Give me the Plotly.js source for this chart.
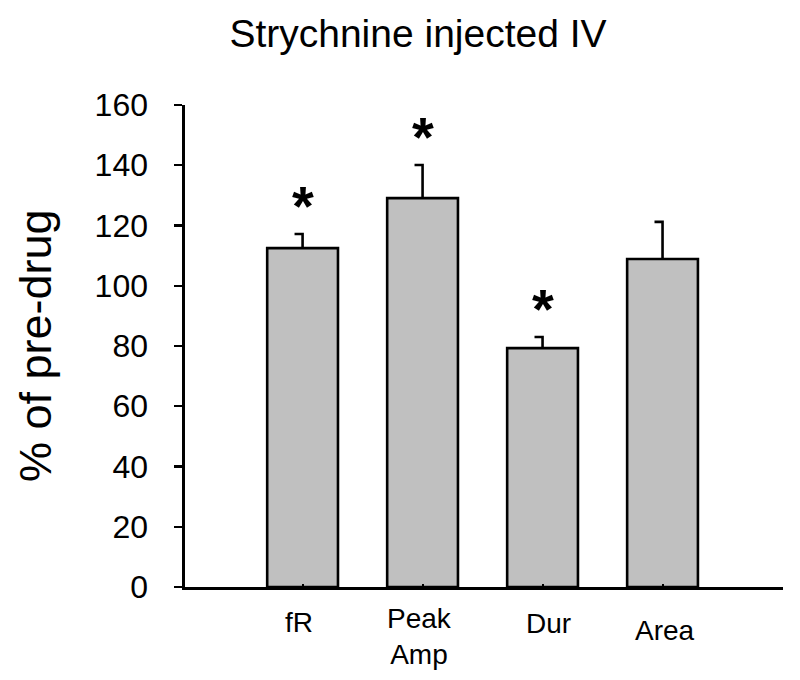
<!DOCTYPE html>
<html>
<head>
<meta charset="utf-8">
<script src="https://cdn.plot.ly/plotly-3.0.1.min.js"></script>
<style>html,body{margin:0;padding:0;background:#fff;}#chart{width:800px;height:680px;}</style>
</head>
<body>
<div id="chart"></div>
<script>
// ---- data ----
const categories = ["fR", "Peak<br>Amp", "Dur", "Area"];
const values = [112.5, 129.1, 79.3, 108.9];
const errors = [4.7, 11.0, 3.7, 12.3];
const significant = [true, true, true, false];
const titleText = "Strychnine injected IV";
const yTitleText = "% of pre-drug";
const yTickVals = [0, 20, 40, 60, 80, 100, 120, 140, 160];

// ---- layout helpers (positions / styles) ----
const FONT = "Liberation Sans, Arial, sans-serif";
const xIdx = categories.map((_, i) => i);
const capW = 0.067;
const labelXShift = [-4, -3, 6, 2];
const labelYShift = [-35, -49, -36, -43];

const barTrace = {
  type: "bar",
  x: xIdx,
  y: values,
  width: 0.59,
  marker: { color: "#c0c0c0", line: { color: "#000", width: 2.6 } },
  hoverinfo: "skip"
};

const ex = [], ey = [];
xIdx.forEach((i) => {
  ex.push(i, i, i - capW, null);
  ey.push(values[i], values[i] + errors[i], values[i] + errors[i], null);
});
const errTrace = {
  type: "scatter", mode: "lines", x: ex, y: ey,
  line: { color: "#000", width: 2.6 }, hoverinfo: "skip", cliponaxis: false
};

const annotations = [];
xIdx.forEach((i) => {
  annotations.push({
    xref: "x", yref: "paper", x: i, y: 0,
    xanchor: "center", yanchor: "middle",
    xshift: labelXShift[i], yshift: labelYShift[i],
    text: categories[i], showarrow: false,
    font: { family: FONT, size: 28, color: "#000" }
  });
  if (significant[i]) {
    annotations.push({
      xref: "x", yref: "y", x: i, y: values[i] + errors[i],
      xanchor: "center", yanchor: "middle", yshift: 28,
      text: "<b>*</b>", showarrow: false,
      font: { family: FONT, size: 56, color: "#000" }
    });
  }
});
annotations.push({
  xref: "paper", yref: "paper", x: 0, y: 0.5,
  xanchor: "center", yanchor: "middle", xshift: -150,
  textangle: -90, text: yTitleText, showarrow: false,
  font: { family: FONT, size: 45, color: "#000" }
});

const layout = {
  width: 800, height: 680,
  margin: { l: 185, r: 17, t: 105, b: 93 },
  paper_bgcolor: "#fff", plot_bgcolor: "#fff",
  showlegend: false,
  title: {
    text: titleText, x: 0.5225, xanchor: "center",
    y: 1 - 33 / 680, yanchor: "middle", yref: "container",
    font: { family: FONT, size: 39, color: "#000" }
  },
  xaxis: {
    range: [-0.98, 4.004],
    tickvals: [0, 1, 2, 3, 4], showticklabels: false,
    ticks: "inside", ticklen: 3, tickwidth: 2, tickcolor: "#000",
    showline: true, linecolor: "#000", linewidth: 2.6,
    showgrid: false, zeroline: false, fixedrange: true
  },
  yaxis: {
    range: [0, 160], tickvals: yTickVals,
    ticks: "outside", ticklen: 8, tickwidth: 2.4, tickcolor: "#000",
    ticklabelstandoff: 20,
    showline: true, linecolor: "#000", linewidth: 2.6,
    showgrid: false, zeroline: false, fixedrange: true,
    tickfont: { family: FONT, size: 32, color: "#000" }
  },
  annotations: annotations
};

Plotly.newPlot("chart", [barTrace, errTrace], layout, { staticPlot: true, displayModeBar: false });
</script>
</body>
</html>
